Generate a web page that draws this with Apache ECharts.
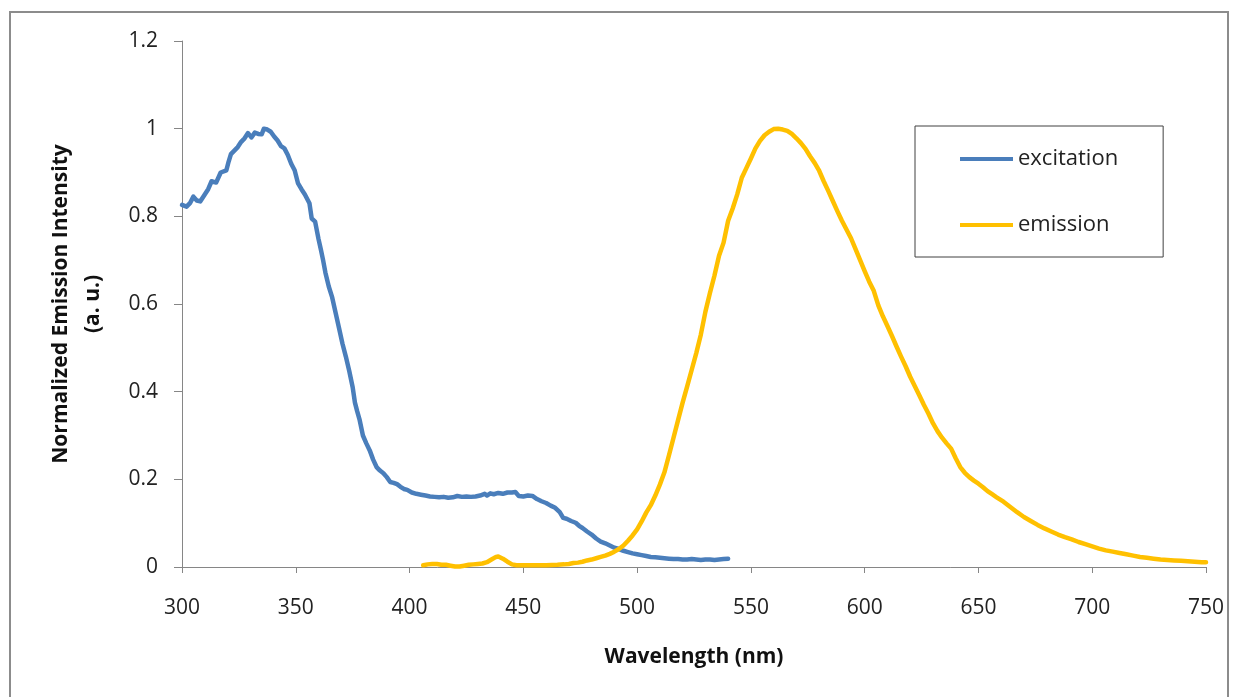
<!DOCTYPE html>
<html>
<head>
<meta charset="utf-8">
<script src="https://cdn.jsdelivr.net/npm/echarts@6/dist/echarts.min.js"></script>
<style>
html,body{margin:0;padding:0;background:#fff;}
#chart{width:1241px;height:697px;}
</style>
</head>
<body>
<div id="chart"></div>
<script>
const seriesNames = ['excitation', 'emission'];
const xTitle = 'Wavelength (nm)';
const yTitle = 'Normalized Emission Intensity\n(a. u.)';

const excitationWl = [300,302,303.5,305,306.5,308,310,311.5,313,315,317,319.5,320.5,321.5,323,324.5,326,327.5,329,330.5,332,333.5,335,336,337.5,339,340.5,342,343.5,345,346.5,348,349.5,351,352.5,354,356,357,358.5,360,361,362,363,364.5,366,367.5,369,370.5,372,373.5,375,376,377,378,379.5,381,382.5,384,385.5,387,388.5,390,391.5,393,394.5,396,397.5,399,401,403,405,407,409,411,413,415,417,419,421,423,425,427,429,431,433,434,435.5,437,439,441,443,445,446.5,448,450,452,454,456,458,460,462,464,466,467.5,469,471,473,474.5,476,478,480,482,484,486,488,490,492,494,496,498,500,502,504,506,508,510,512,514,516,518,520,522,524,526,528,530,532,534,536,538,540];
const excitationVal = [0.826,0.822,0.830,0.845,0.836,0.834,0.850,0.862,0.880,0.877,0.900,0.905,0.925,0.942,0.950,0.958,0.970,0.978,0.990,0.980,0.991,0.988,0.987,1.0,0.998,0.993,0.982,0.973,0.960,0.955,0.940,0.920,0.905,0.875,0.862,0.850,0.830,0.795,0.788,0.748,0.725,0.700,0.672,0.640,0.615,0.580,0.545,0.510,0.480,0.447,0.410,0.375,0.355,0.337,0.300,0.282,0.266,0.245,0.228,0.220,0.214,0.205,0.194,0.192,0.189,0.183,0.178,0.176,0.170,0.167,0.165,0.163,0.161,0.160,0.159,0.160,0.158,0.159,0.162,0.160,0.161,0.160,0.161,0.163,0.167,0.163,0.168,0.166,0.169,0.167,0.170,0.170,0.171,0.162,0.161,0.163,0.162,0.155,0.150,0.146,0.140,0.135,0.125,0.112,0.110,0.105,0.101,0.094,0.089,0.081,0.074,0.065,0.058,0.054,0.049,0.044,0.041,0.037,0.034,0.031,0.029,0.027,0.025,0.023,0.022,0.021,0.020,0.019,0.018,0.018,0.017,0.017,0.018,0.017,0.016,0.017,0.017,0.016,0.017,0.018,0.019];

const emissionWl = [406,408,410,412,414,416,418,420,422,424,426,428,430,432,434,436,438,439,441,443,445,447,450,455,460,465,468,470,472,474,476,478,480,482,484,486,488,490,492,494,496,498,500,502,504,506,508,510,512,514,516,518,520,522,524,526,528,530,532,534,536,538,540,542,544,546,548,550,552,554,556,558,560,562,564,566,568,570,572,574,576,578,580,582,584,586,588,590,592,594,596,598,600,602,604,606,608,610,612,614,616,618,620,622,624,626,628,630,632,634,636,638,640,642,644,646,648,650,652,654,656,658,661,664,667,670,673,676,679,682,685,688,691,694,697,700,703,706,709,712,715,718,721,724,727,730,733,736,739,742,745,748,750];
const emissionVal = [0.004,0.006,0.007,0.007,0.005,0.005,0.003,0.001,0.001,0.003,0.005,0.006,0.007,0.008,0.011,0.017,0.023,0.024,0.019,0.012,0.006,0.004,0.004,0.004,0.004,0.005,0.006,0.007,0.009,0.010,0.012,0.015,0.017,0.020,0.023,0.026,0.030,0.035,0.041,0.049,0.060,0.072,0.086,0.104,0.124,0.141,0.163,0.188,0.216,0.255,0.295,0.335,0.375,0.412,0.450,0.488,0.530,0.582,0.625,0.665,0.710,0.740,0.790,0.818,0.850,0.888,0.910,0.932,0.955,0.972,0.985,0.993,0.999,1.0,0.998,0.995,0.988,0.978,0.967,0.954,0.937,0.922,0.904,0.880,0.858,0.835,0.812,0.790,0.770,0.750,0.725,0.700,0.675,0.651,0.630,0.597,0.572,0.550,0.527,0.503,0.480,0.458,0.434,0.413,0.392,0.370,0.350,0.328,0.310,0.295,0.282,0.270,0.248,0.228,0.215,0.205,0.197,0.190,0.182,0.173,0.166,0.159,0.149,0.137,0.125,0.114,0.105,0.096,0.088,0.081,0.074,0.068,0.063,0.057,0.052,0.047,0.042,0.038,0.035,0.032,0.029,0.026,0.023,0.021,0.019,0.017,0.016,0.015,0.014,0.013,0.012,0.011,0.011];

const zip = (xs, ys) => xs.map((x, i) => [x, ys[i]]);
const FONT = '"Open Sans", "Noto Sans", sans-serif';
const AXIS_COLOR = '#868686';

const chart = echarts.init(document.getElementById('chart'), null, {renderer: 'canvas'});
chart.setOption({
  animation: false,
  backgroundColor: '#ffffff',
  graphic: [{
    type: 'rect',
    shape: {x: 10, y: 12, width: 1218, height: 720},
    style: {fill: 'none', stroke: '#8c8c8c', lineWidth: 2},
    silent: true, z: -1
  }],
  grid: {left: 182, right: 35, top: 41, bottom: 130, containLabel: false},
  legend: {
    orient: 'vertical',
    left: 915, top: 126,
    padding: [20, 45, 19, 45],
    itemGap: 40,
    itemWidth: 53, itemHeight: 4,
    itemTextGap: 6,
    icon: 'rect',
    borderColor: '#404040', borderWidth: 1,
    backgroundColor: '#ffffff',
    textStyle: {fontFamily: FONT, fontSize: 22, color: '#222', lineHeight: 26},
    data: seriesNames
  },
  xAxis: {
    type: 'value', min: 300, max: 750, interval: 50,
    name: xTitle, nameLocation: 'middle', nameGap: 80,
    nameTextStyle: {fontFamily: FONT, fontSize: 21, fontWeight: 'bold', color: '#111'},
    axisLine: {show: true, lineStyle: {color: AXIS_COLOR, width: 1}},
    axisTick: {show: true, inside: false, length: 6, lineStyle: {color: AXIS_COLOR}},
    axisLabel: {fontFamily: FONT, fontSize: 21, color: '#222', margin: 31},
    splitLine: {show: false}
  },
  yAxis: {
    type: 'value', min: 0, max: 1.2, interval: 0.2,
    name: yTitle, nameLocation: 'middle', nameGap: 73, nameRotate: 90,
    nameTextStyle: {fontFamily: FONT, fontSize: 21, fontWeight: 'bold', color: '#111', lineHeight: 32, align: 'center'},
    axisLine: {show: true, lineStyle: {color: AXIS_COLOR, width: 1}},
    axisTick: {show: true, inside: false, length: 8, lineStyle: {color: AXIS_COLOR}},
    axisLabel: {fontFamily: FONT, fontSize: 21, color: '#222', margin: 24},
    splitLine: {show: false}
  },
  series: [
    {
      name: seriesNames[0], type: 'line', data: zip(excitationWl, excitationVal),
      showSymbol: false, symbol: 'none',
      lineStyle: {color: '#4a7ebb', width: 4.5, join: 'round', cap: 'round'},
      itemStyle: {color: '#4a7ebb'}
    },
    {
      name: seriesNames[1], type: 'line', data: zip(emissionWl, emissionVal),
      showSymbol: false, symbol: 'none',
      lineStyle: {color: '#ffc000', width: 4.5, join: 'round', cap: 'round'},
      itemStyle: {color: '#ffc000'}
    }
  ]
});
</script>
</body>
</html>
